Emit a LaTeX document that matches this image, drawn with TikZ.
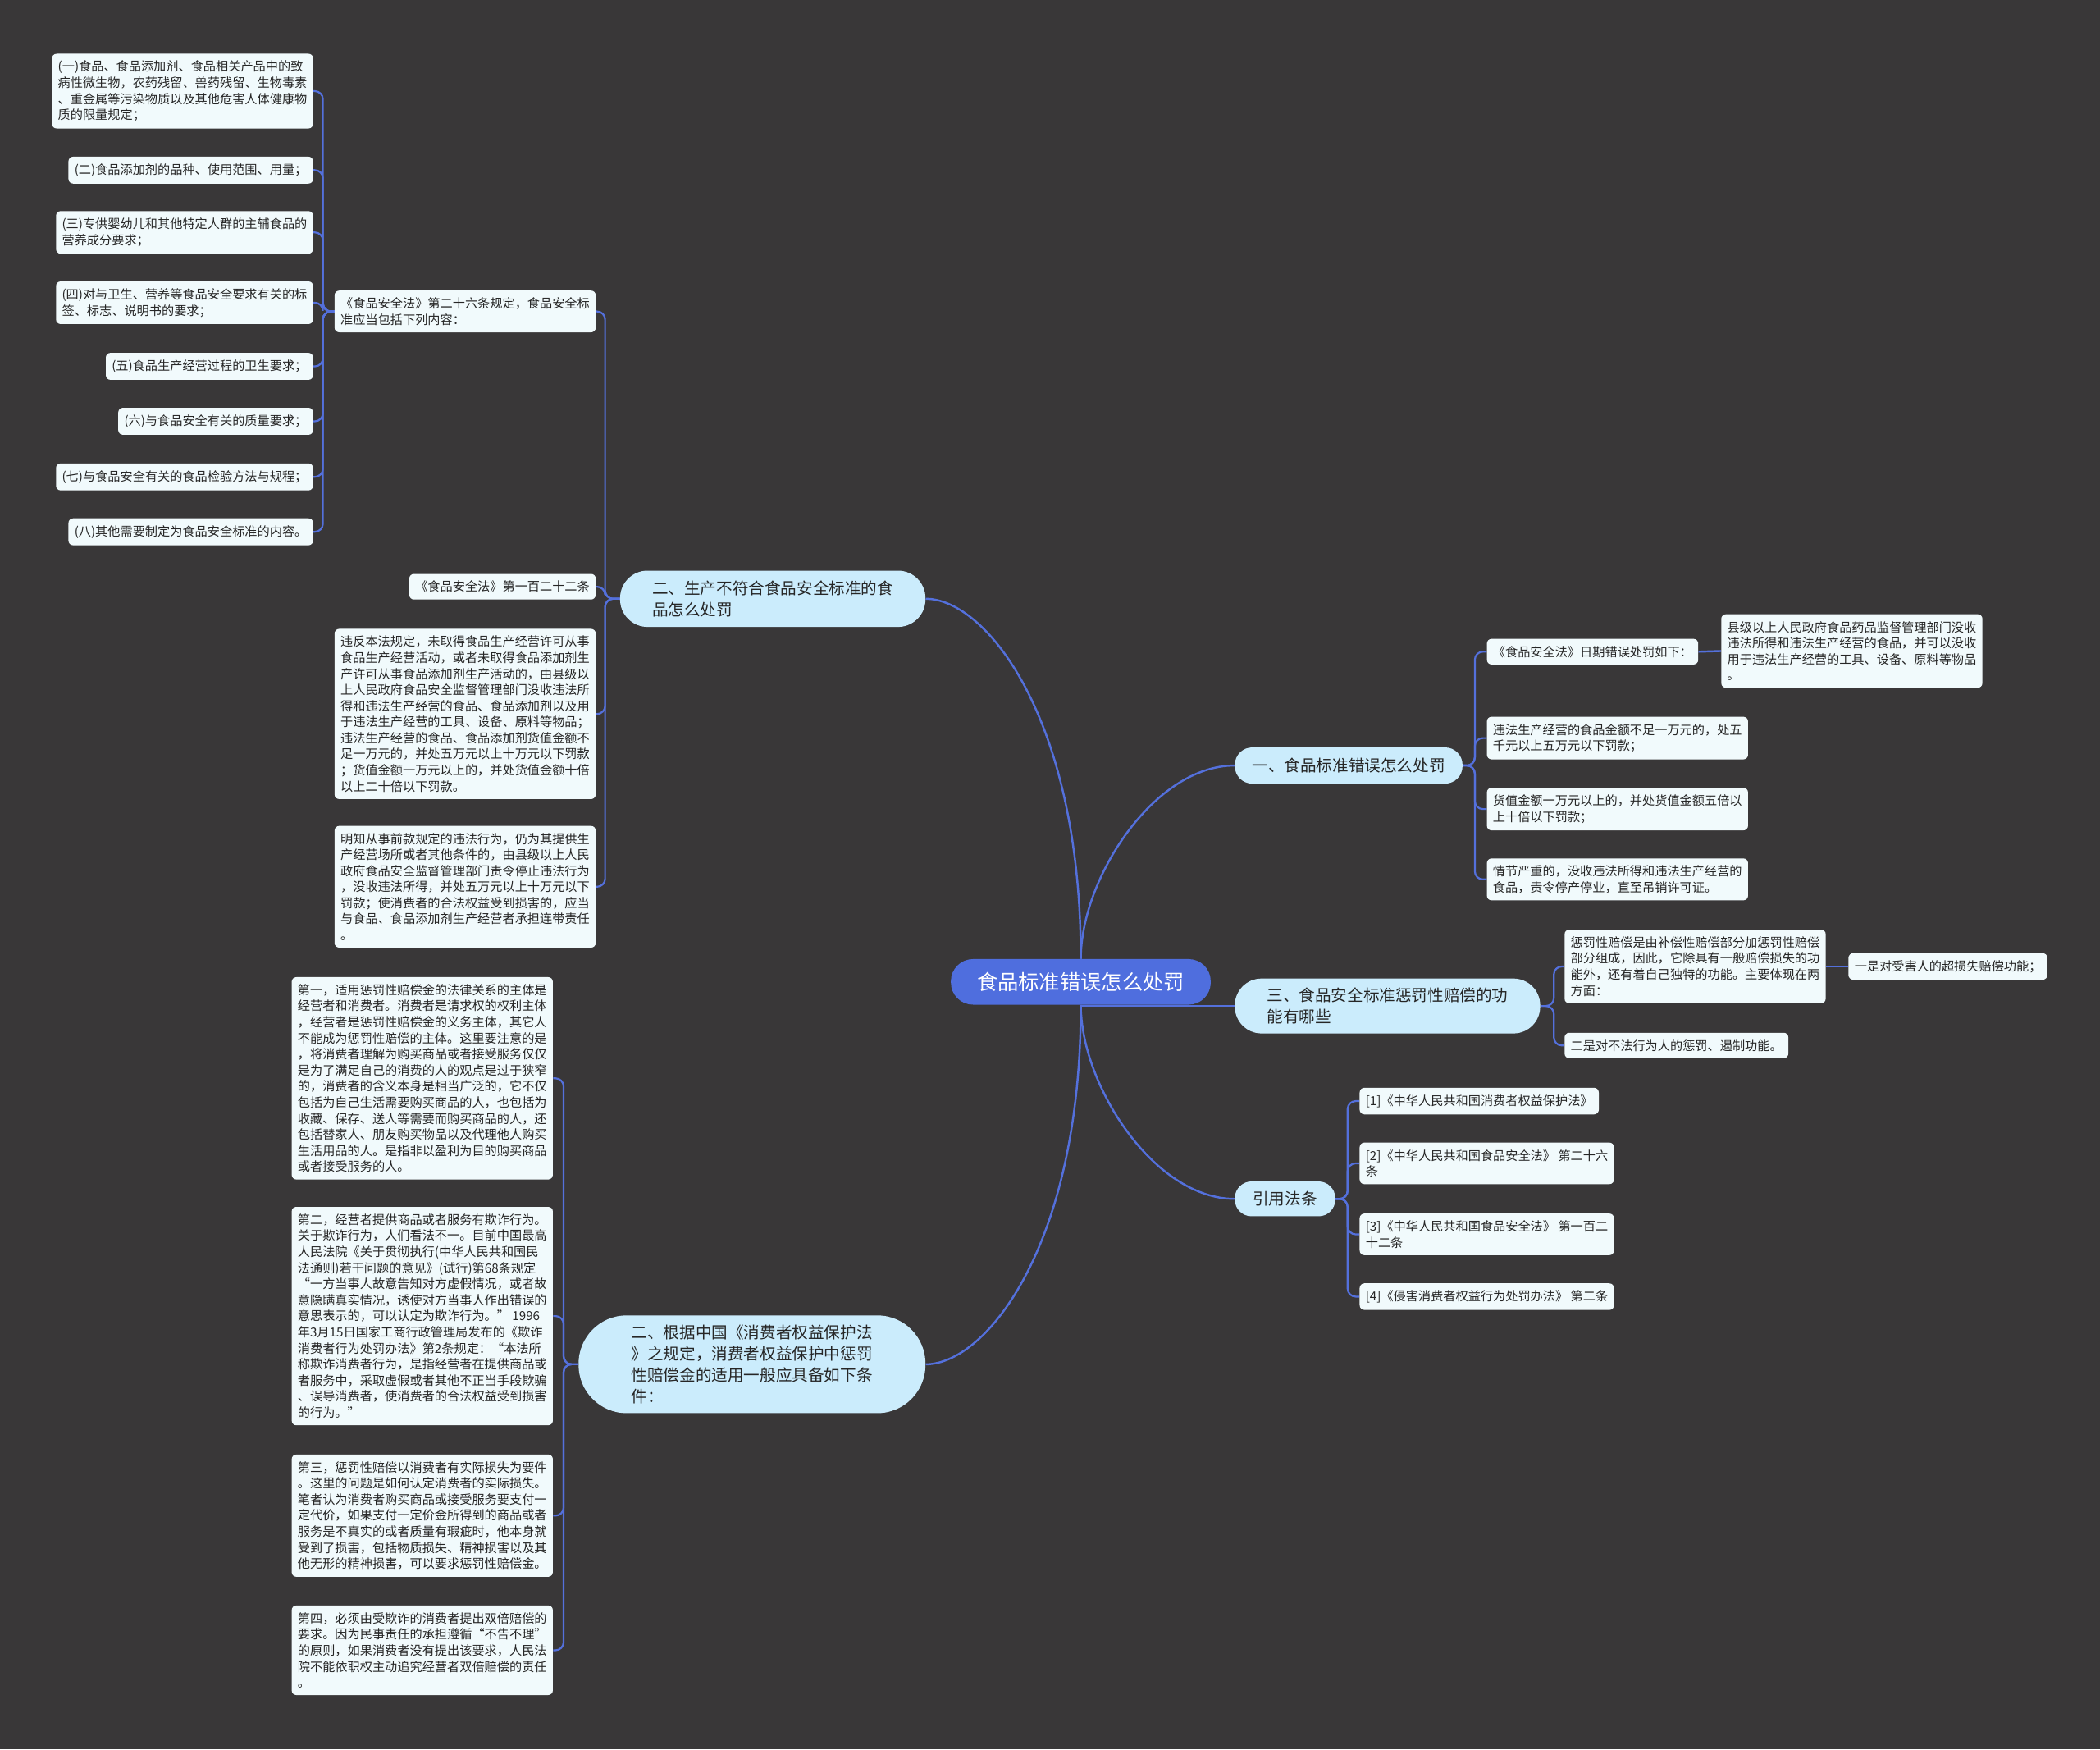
\documentclass[tikz,border=0pt]{standalone}
\usepackage{fontspec}
\setmainfont{Noto Sans CJK SC}
\usetikzlibrary{backgrounds}
\definecolor{bgc}{HTML}{393738}
\definecolor{linec}{HTML}{5470DC}
\definecolor{leafc}{HTML}{F1FAFC}
\definecolor{midc}{HTML}{CBECFC}
\definecolor{rootc}{HTML}{4F6EDE}
\definecolor{txtc}{HTML}{262626}
\tikzset{
  leaf/.style={fill=leafc, rounded corners=3.5pt, inner xsep=4.5pt, inner ysep=5.2pt, align=left, font=\fontsize{9.3}{12}\selectfont, text=txtc},
  midnode/.style={fill=midc, align=left, font=\fontsize{12}{16}\selectfont, text=txtc, inner sep=0pt},
  rootnode/.style={fill=rootc, font=\fontsize{15.5}{18}\selectfont, text=white, inner sep=0pt, minimum width=194pt, minimum height=34pt, rounded corners=16.5pt},
  link/.style={draw=linec, line width=1.5pt},
  elbow/.style={draw=linec, line width=1.35pt, rounded corners=6pt},
}
\begin{document}
\begin{tikzpicture}[x=1pt,y=-1pt]
\useasboundingbox (0,0) rectangle (1568,1306);
\begin{scope}[on background layer]
\fill[bgc] (0,0) rectangle (1568,1306);
\end{scope}

% root
\node[rootnode] (root) at (807,733) {食品标准错误怎么处罚};

% level 2
\node[midnode, minimum width=228pt, minimum height=42pt, rounded corners=20.5pt] (a) at (577,447) {二、生产不符合食品安全标准的食\\品怎么处罚};
\node[midnode, minimum width=170pt, minimum height=27pt, rounded corners=13pt] (c) at (1007,571.5) {一、食品标准错误怎么处罚};
\node[midnode, minimum width=228pt, minimum height=41pt, rounded corners=20pt] (d) at (1036,751) {三、食品安全标准惩罚性赔偿的功\\能有哪些};
\node[midnode, minimum width=75pt, minimum height=26pt, rounded corners=12.5pt] (e) at (959.5,895) {引用法条};
\node[midnode, minimum width=259pt, minimum height=73pt, rounded corners=36pt] (f) at (561.5,1018.5) {二、根据中国《消费者权益保护法\\》之规定，消费者权益保护中惩罚\\性赔偿金的适用一般应具备如下条\\件：};

% left top leaves
\node[leaf, anchor=east] (l1) at (234,68) {(一)食品、食品添加剂、食品相关产品中的致\\病性微生物，农药残留、兽药残留、生物毒素\\、重金属等污染物质以及其他危害人体健康物\\质的限量规定；};
\node[leaf, anchor=east] (l2) at (234,127) {(二)食品添加剂的品种、使用范围、用量；};
\node[leaf, anchor=east] (l3) at (234,173.5) {(三)专供婴幼儿和其他特定人群的主辅食品的\\营养成分要求；};
\node[leaf, anchor=east] (l4) at (234,226) {(四)对与卫生、营养等食品安全要求有关的标\\签、标志、说明书的要求；};
\node[leaf, anchor=east] (l5) at (234,273.5) {(五)食品生产经营过程的卫生要求；};
\node[leaf, anchor=east] (l6) at (234,314.5) {(六)与食品安全有关的质量要求；};
\node[leaf, anchor=east] (l7) at (234,356) {(七)与食品安全有关的食品检验方法与规程；};
\node[leaf, anchor=east] (l8) at (234,397) {(八)其他需要制定为食品安全标准的内容。};

\node[leaf, anchor=east] (b1) at (445,232.5) {《食品安全法》第二十六条规定，食品安全标\\准应当包括下列内容：};
\node[leaf, anchor=east] (b2) at (445,438) {《食品安全法》第一百二十二条};
\node[leaf, anchor=east] (b3) at (445,533) {违反本法规定，未取得食品生产经营许可从事\\食品生产经营活动，或者未取得食品添加剂生\\产许可从事食品添加剂生产活动的，由县级以\\上人民政府食品安全监督管理部门没收违法所\\得和违法生产经营的食品、食品添加剂以及用\\于违法生产经营的工具、设备、原料等物品；\\违法生产经营的食品、食品添加剂货值金额不\\足一万元的，并处五万元以上十万元以下罚款\\；货值金额一万元以上的，并处货值金额十倍\\以上二十倍以下罚款。};
\node[leaf, anchor=east] (b4) at (445,662) {明知从事前款规定的违法行为，仍为其提供生\\产经营场所或者其他条件的，由县级以上人民\\政府食品安全监督管理部门责令停止违法行为\\，没收违法所得，并处五万元以上十万元以下\\罚款；使消费者的合法权益受到损害的，应当\\与食品、食品添加剂生产经营者承担连带责任\\。};

% right side
\node[leaf, anchor=west] (c1) at (1110,486.5) {《食品安全法》日期错误处罚如下：};
\node[leaf, anchor=west] (c1a) at (1285,486) {县级以上人民政府食品药品监督管理部门没收\\违法所得和违法生产经营的食品，并可以没收\\用于违法生产经营的工具、设备、原料等物品\\。};
\node[leaf, anchor=west] (c2) at (1110,551) {违法生产经营的食品金额不足一万元的，处五\\千元以上五万元以下罚款；};
\node[leaf, anchor=west] (c3) at (1110,604) {货值金额一万元以上的，并处货值金额五倍以\\上十倍以下罚款；};
\node[leaf, anchor=west] (c4) at (1110,656.5) {情节严重的，没收违法所得和违法生产经营的\\食品，责令停产停业，直至吊销许可证。};

\node[leaf, anchor=west] (d1) at (1168,721.5) {惩罚性赔偿是由补偿性赔偿部分加惩罚性赔偿\\部分组成，因此，它除具有一般赔偿损失的功\\能外，还有着自己独特的功能。主要体现在两\\方面：};
\node[leaf, anchor=west] (d1a) at (1380,721.5) {一是对受害人的超损失赔偿功能；};
\node[leaf, anchor=west] (d2) at (1168,780.5) {二是对不法行为人的惩罚、遏制功能。};

\node[leaf, anchor=west] (e1) at (1015,822) {[1]《中华人民共和国消费者权益保护法》};
\node[leaf, anchor=west] (e2) at (1015,868.5) {[2]《中华人民共和国食品安全法》 第二十六\\条};
\node[leaf, anchor=west] (e3) at (1015,921.5) {[3]《中华人民共和国食品安全法》 第一百二\\十二条};
\node[leaf, anchor=west] (e4) at (1015,968) {[4]《侵害消费者权益行为处罚办法》 第二条};

% bottom-left leaves
\node[leaf, anchor=east] (f1) at (413,805) {第一，适用惩罚性赔偿金的法律关系的主体是\\经营者和消费者。消费者是请求权的权利主体\\，经营者是惩罚性赔偿金的义务主体，其它人\\不能成为惩罚性赔偿的主体。这里要注意的是\\，将消费者理解为购买商品或者接受服务仅仅\\是为了满足自己的消费的人的观点是过于狭窄\\的，消费者的含义本身是相当广泛的，它不仅\\包括为自己生活需要购买商品的人，也包括为\\收藏、保存、送人等需要而购买商品的人，还\\包括替家人、朋友购买物品以及代理他人购买\\生活用品的人。是指非以盈利为目的购买商品\\或者接受服务的人。};
\node[leaf, anchor=east] (f2) at (413,982.5) {第二，经营者提供商品或者服务有欺诈行为。\\关于欺诈行为，人们看法不一。目前中国最高\\人民法院《关于贯彻执行(中华人民共和国民\\法通则)若干问题的意见》(试行)第68条规定\\“一方当事人故意告知对方虚假情况，或者故\\意隐瞒真实情况，诱使对方当事人作出错误的\\意思表示的，可以认定为欺诈行为。” 1996\\年3月15日国家工商行政管理局发布的《欺诈\\消费者行为处罚办法》第2条规定：“本法所\\称欺诈消费者行为，是指经营者在提供商品或\\者服务中，采取虚假或者其他不正当手段欺骗\\、误导消费者，使消费者的合法权益受到损害\\的行为。”};
\node[leaf, anchor=east] (f3) at (413,1131.5) {第三，惩罚性赔偿以消费者有实际损失为要件\\。这里的问题是如何认定消费者的实际损失。\\笔者认为消费者购买商品或接受服务要支付一\\定代价，如果支付一定价金所得到的商品或者\\服务是不真实的或者质量有瑕疵时，他本身就\\受到了损害，包括物质损失、精神损害以及其\\他无形的精神损害，可以要求惩罚性赔偿金。};
\node[leaf, anchor=east] (f4) at (413,1232) {第四，必须由受欺诈的消费者提出双倍赔偿的\\要求。因为民事责任的承担遵循“不告不理”\\的原则，如果消费者没有提出该要求，人民法\\院不能依职权主动追究经营者双倍赔偿的责任\\。};

% connectors
\begin{scope}[on background layer]
\draw[link] (root.north) .. controls +(0,-180) and +(45,0) .. (a.east);
\draw[link] (root.north) .. controls +(0,-60) and +(-60,0) .. (c.west);
\draw[link] (root.center |- d.west) -- (d.west);
\draw[link] (root.south) .. controls +(0,60) and +(-60,0) .. (e.west);
\draw[link] (root.south) .. controls +(0,180) and +(45,0) .. (f.east);

\foreach \n in {l1,l2,l3,l4,l5,l6,l7,l8}
  \draw[elbow] (b1.west) -- ++(-8.5,0) |- (\n.east);
\foreach \n in {b1,b2,b3,b4}
  \draw[elbow] (a.west) -- ++(-11,0) |- (\n.east);
\foreach \n in {c1,c2,c3,c4}
  \draw[elbow] (c.east) -- ++(9,0) |- (\n.west);
\draw[link] (c1.east) -- (c1a.west);
\foreach \n in {d1,d2}
  \draw[elbow] (d.east) -- ++(10,0) |- (\n.west);
\draw[link] (d1.east) -- (d1a.west);
\foreach \n in {e1,e2,e3,e4}
  \draw[elbow] (e.east) -- ++(9,0) |- (\n.west);
\foreach \n in {f1,f2,f3,f4}
  \draw[elbow] (f.west) -- ++(-11,0) |- (\n.east);
\end{scope}
\end{tikzpicture}
\end{document}
